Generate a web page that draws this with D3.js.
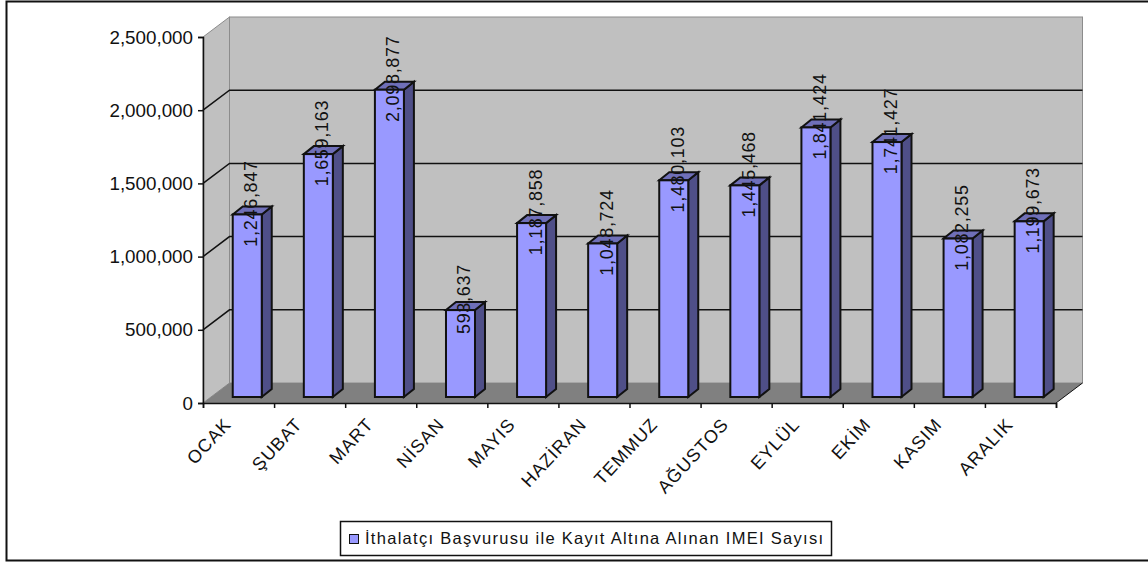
<!DOCTYPE html>
<html>
<head>
<meta charset="utf-8">
<script src="https://cdn.jsdelivr.net/npm/d3@7"></script>
<style>
html,body{margin:0;padding:0;background:#fff;overflow:hidden}
svg{display:block}
text{font-family:"Liberation Sans",Arial,sans-serif;fill:#111}
</style>
</head>
<body>
<svg></svg>
<script>
var months = ["OCAK","ŞUBAT","MART","NİSAN","MAYIS","HAZİRAN","TEMMUZ","AĞUSTOS","EYLÜL","EKİM","KASIM","ARALIK"];
var counts = [1246847,1659163,2098877,593637,1187858,1048724,1480103,1445468,1841424,1741427,1082255,1199673];
var yTicks = [0,500000,1000000,1500000,2000000,2500000];
var legendLabel = "İthalatçı Başvurusu ile Kayıt Altına Alınan IMEI Sayısı";

var width = 1148;
var height = 563;

// plot box on the front plane, walls are pushed back by depthX/depthY
var plotL = 203, plotR = 1056, plotT = 37, plotB = 403;
var depthX = 26.5, depthY = 20;
var barW = 29, barDepthX = 10, barDepthY = 8;
var barGapX = 8.7, barGapY = 6;

var svg = d3.select("svg").attr("width",width).attr("height",height);

var x = d3.scaleBand().domain(months).range([plotL,plotR]);
var y = d3.scaleLinear().domain([0,2500000]).range([plotB,plotT]);
var tickPos = d3.scaleLinear().domain([0,12]).range([plotL,plotR]);

// chart frame
svg.append("path")
   .attr("d",`M${width},1.5H6.5V560.5H${width}`)
   .attr("fill","none").attr("stroke","#111").attr("stroke-width",2);

// back wall
svg.append("rect")
   .attr("x",plotL+depthX).attr("y",plotT-depthY)
   .attr("width",plotR-plotL).attr("height",plotB-plotT)
   .attr("fill","#c0c0c0").attr("stroke","#8c8c8c");
// left wall
svg.append("path")
   .attr("d",`M${plotL},${plotT}L${plotL+depthX},${plotT-depthY}V${plotB-depthY}L${plotL},${plotB}Z`)
   .attr("fill","#c0c0c0").attr("stroke","#8c8c8c");
// floor
svg.append("path")
   .attr("d",`M${plotL},${plotB}L${plotL+depthX},${plotB-depthY}H${plotR+depthX}L${plotR},${plotB}Z`)
   .attr("fill","#808080");

// gridlines
var inner = yTicks.filter(d=>d>0 && d<2500000);
svg.selectAll(".grid").data(inner).enter().append("path")
   .attr("class","grid")
   .attr("d",d=>`M${plotL},${y(d)}L${plotL+depthX},${y(d)-depthY}H${plotR+depthX}`)
   .attr("fill","none").attr("stroke","#111").attr("stroke-width",1.5);
svg.append("path")
   .attr("d",`M${plotR},${plotB}L${plotR+depthX},${plotB-depthY}`)
   .attr("fill","none").attr("stroke","#111");

// bars
var bars = svg.selectAll(".bar").data(months).enter().append("g").attr("class","bar");
var barX = d=>x(d)+(x.bandwidth()-barW)/2+barGapX;
var barTop = (d,i)=>y(counts[i])-barGapY;
var barBase = y(0)-barGapY;

bars.append("path") // side
    .attr("d",(d,i)=>{
      var r = barX(d)+barW;
      return `M${r},${barTop(d,i)}l${barDepthX},${-barDepthY}V${barBase-barDepthY}L${r},${barBase}Z`;
    })
    .attr("fill","#4f4f88").attr("stroke","#111").attr("stroke-width",2);
bars.append("path") // top
    .attr("d",(d,i)=>`M${barX(d)},${barTop(d,i)}l${barDepthX},${-barDepthY}h${barW}l${-barDepthX},${barDepthY}Z`)
    .attr("fill","#6f6fb8").attr("stroke","#111").attr("stroke-width",2);
bars.append("rect") // front
    .attr("x",barX)
    .attr("y",barTop)
    .attr("width",barW)
    .attr("height",(d,i)=>barBase-barTop(d,i))
    .attr("fill","#9999ff").attr("stroke","#111").attr("stroke-width",2);

// value labels, turned upright along the bar
var fmt = d3.format(",");
svg.selectAll(".val").data(months).enter().append("text")
   .attr("class","val")
   .attr("transform",(d,i)=>`translate(${barX(d)+(barW+barDepthX)/2-1.5},${y(counts[i])-17}) rotate(-90)`)
   .attr("text-anchor","middle")
   .attr("dy","0.36em")
   .style("font-size","18px")
   .style("letter-spacing","0.7px")
   .text((d,i)=>fmt(counts[i]));

// y axis
var yAxis = svg.append("g")
   .attr("transform",`translate(${plotL},0)`)
   .call(d3.axisLeft(y).tickValues(yTicks).tickFormat(fmt).tickSize(5).tickPadding(5));
yAxis.selectAll("text").style("font-size","18.8px");

// x axis, ticks sit between the months
svg.append("g")
   .attr("transform",`translate(0,${plotB})`)
   .call(d3.axisBottom(tickPos).tickValues(d3.range(13)).tickFormat("").tickSize(5));

svg.selectAll(".mon").data(months).enter().append("text")
   .attr("class","mon")
   .attr("transform",d=>`translate(${x(d)+x.bandwidth()/2-11},${plotB+18}) rotate(-47)`)
   .attr("text-anchor","end")
   .attr("dy","0.35em")
   .style("font-size","18px")
   .style("letter-spacing","1px")
   .text(d=>d);

svg.selectAll(".domain,.tick line").attr("stroke","#111").attr("stroke-width",1.5);

// legend
var legend = svg.append("g");
legend.append("rect")
   .attr("x",340.5).attr("y",521.5).attr("width",491).attr("height",34)
   .attr("fill","#fff").attr("stroke","#111").attr("stroke-width",1.5);
legend.append("rect")
   .attr("x",349.5).attr("y",534.5).attr("width",9).attr("height",9)
   .attr("fill","#9999ff").attr("stroke","#111");
legend.append("text")
   .attr("x",365).attr("y",544)
   .attr("textLength",458)
   .style("font-size","16.5px")
   .text(legendLabel);
</script>
</body>
</html>
